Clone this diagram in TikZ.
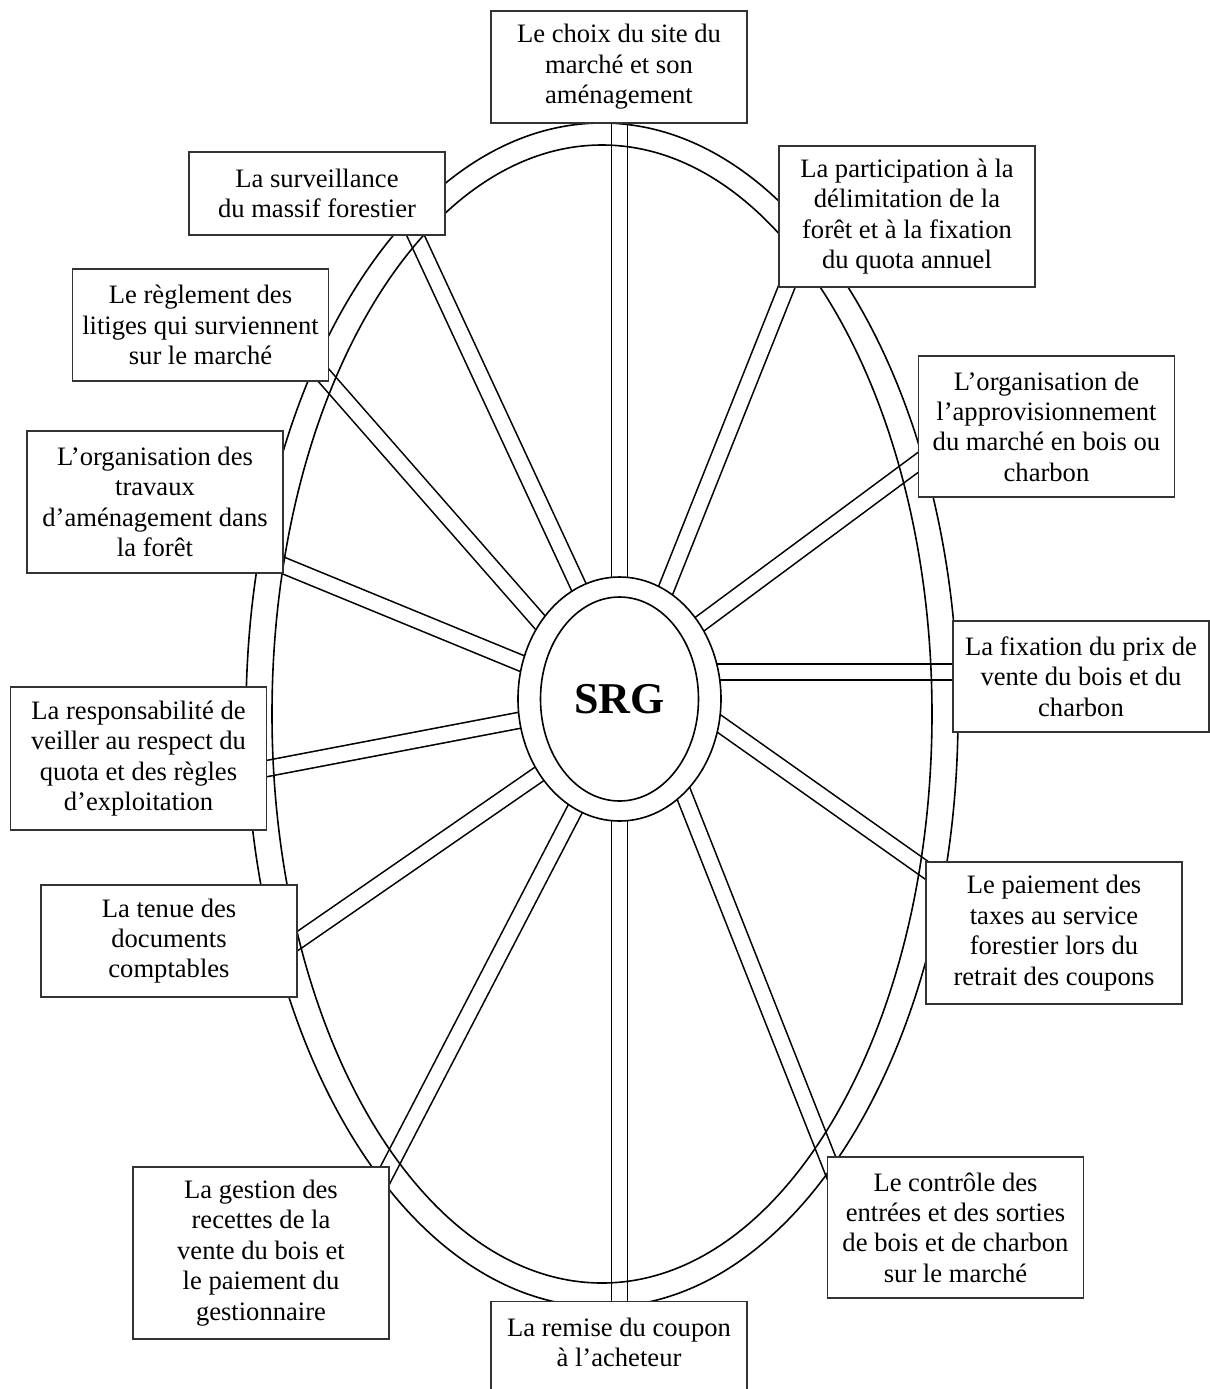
\documentclass[tikz,border=0pt]{standalone}
\usepackage{fontspec}
\setmainfont{Liberation Serif}
\usetikzlibrary{shapes.geometric,backgrounds}

\begin{document}
\begin{tikzpicture}
  [x=0.5pt,y=-0.5pt,
   every node/.style={font=\fontsize{13.3}{15.2}\selectfont},
   task/.style={rectangle,draw=black!80,line width=0.6pt,fill=white,
     align=center,minimum width=128pt,inner sep=4pt},
   rim/.style={line width=0.8pt},
   spoke/.style={line width=0.8pt,double=white,double distance=7.2pt,
     shorten <=-12pt,shorten >=-12pt}]
  \useasboundingbox (0,0) rectangle (1210,1389);
  % the wheel
  \draw[rim] (602,715) ellipse [x radius=178pt,y radius=296pt];
  \draw[rim] (602,714) ellipse [x radius=165pt,y radius=284.5pt];
  % hub
  \node[ellipse,draw,line width=0.8pt,fill=white,minimum width=101.5pt,
    minimum height=122pt,inner sep=0pt] (hub) at (619.5,699) {};
  \node[ellipse,draw,line width=0.8pt,minimum width=79pt,minimum height=102pt,
    inner sep=0pt,font=\fontsize{22}{26}\selectfont\bfseries] (core) at (hub)
    {\raisebox{-3pt}{SRG}};
  % tasks, clockwise from the top
  \node[task,minimum height=56pt] (choix) at (619,67)
    {Le choix du site du\\marché et son\\aménagement};
  \node[task,minimum height=70.5pt] (part) at (907,216.5)
    {La participation à la\\délimitation de la\\forêt et à la fixation\\du quota annuel};
  \node[task,minimum height=70.5pt] (appro) at (1046.5,426.5)
    {L’organisation de\\l’approvisionnement\\du marché en bois ou\\charbon};
  \node[task,minimum height=55.5pt] (prix) at (1081,676.5)
    {La fixation du prix de\\vente du bois et du\\charbon};
  \node[task,minimum height=71pt] (paie) at (1054,933)
    {Le paiement des\\taxes au service\\forestier lors du\\retrait des coupons};
  \node[task,minimum height=70.5pt] (controle) at (955.5,1227.5)
    {Le contrôle des\\entrées et des sorties\\de bois et de charbon\\sur le marché};
  \node[task,anchor=north,minimum height=56pt] (remise) at (619,1301)
    {La remise du coupon\\à l’acheteur\\\mbox{}};
  \node[task,minimum height=86pt] (gestion) at (261,1253)
    {La gestion des\\recettes de la\\vente du bois et\\le paiement du\\gestionnaire};
  \node[task,minimum height=56pt] (tenue) at (169,941)
    {La tenue des\\documents\\comptables};
  \node[task,minimum height=71.5pt] (resp) at (138.5,758.5)
    {La responsabilité de\\veiller au respect du\\quota et des règles\\d’exploitation};
  \node[task,minimum height=71pt] (travaux) at (155,502)
    {L’organisation des\\travaux\\d’aménagement dans\\la forêt};
  \node[task,minimum height=56pt] (litiges) at (200.5,325)
    {Le règlement des\\litiges qui surviennent\\sur le marché};
  \node[task,minimum height=41.5pt] (surv) at (317,193.5)
    {La surveillance\\du massif forestier};

  % where the spokes meet the boxes
  \coordinate (partin) at ([xshift=4pt]part.south west);
  \coordinate (approin) at ([yshift=-18pt]appro.west);
  \coordinate (prixin) at (hub.15 -| prix.west);
  \coordinate (paiein) at ([yshift=-4pt]paie.north west);
  \coordinate (choixin) at (hub.north |- choix.south);
  \coordinate (remisein) at (hub.south |- remise.north);
  \coordinate (respin) at ([yshift=-5pt]resp.east);
  \coordinate (travauxin) at ([yshift=4pt]travaux.south east);
  \coordinate (survin) at ([xshift=-15pt]surv.south east);

  \begin{scope}[on background layer]
  \foreach \from/\to in {hub.north/choixin, hub.67/partin, hub.43/approin,
                         hub.15/prixin, hub.-14/paiein,
                         hub.-56/controle.north west, hub.south/remisein,
                         hub.248/gestion.north east, hub.223/tenue.east,
                         hub.192/respin, hub.160/travauxin,
                         hub.136/litiges.south east, hub.110/survin}
    \draw[spoke] (\from) -- (\to);
  \end{scope}
\end{tikzpicture}
\end{document}
